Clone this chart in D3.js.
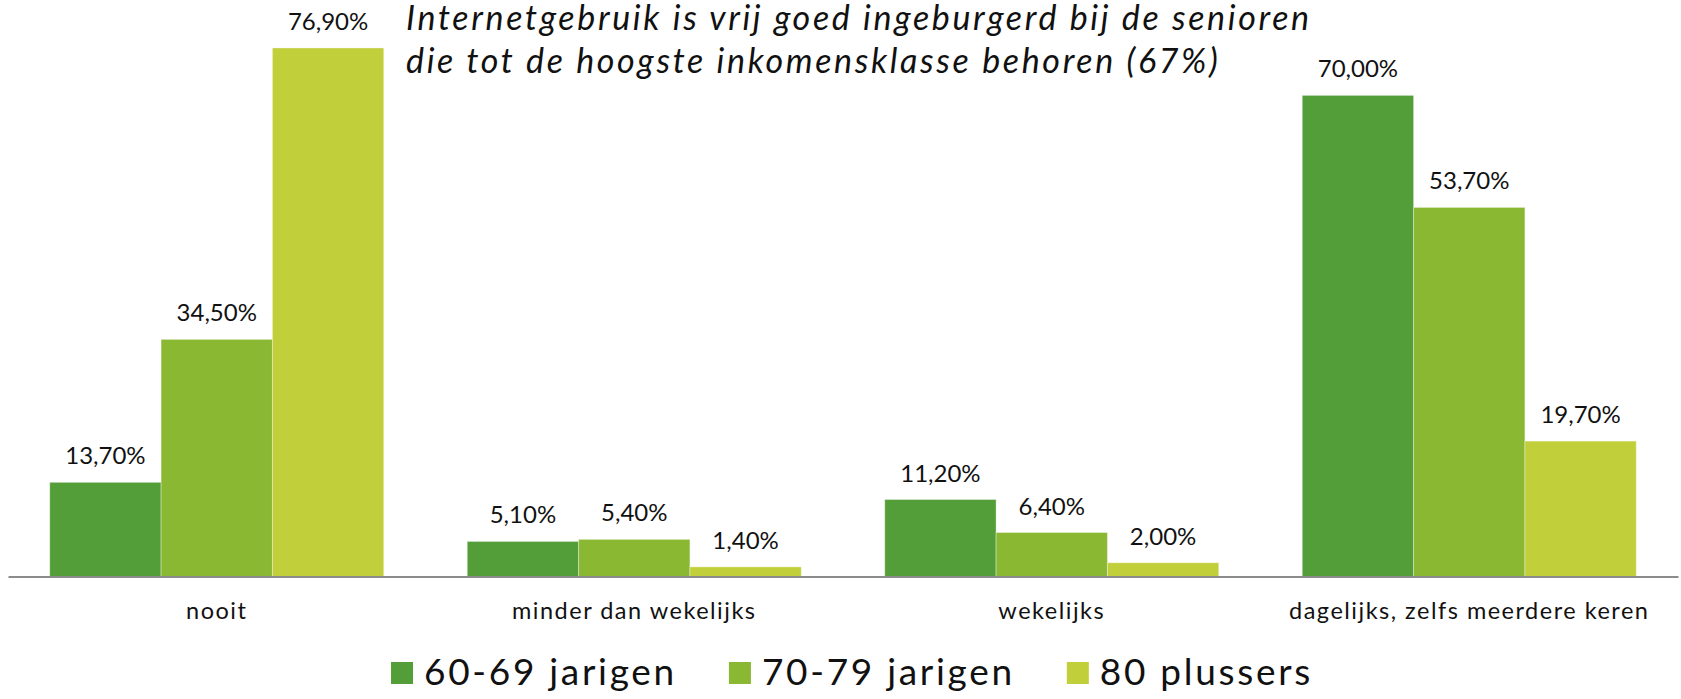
<!DOCTYPE html>
<meta charset="utf-8">
<style>
    body { margin: 0; background: #fff; }
    text { font-family: Lato, "Open Sans", sans-serif; fill: #111; }
    .cat text { font-size: 23.5px; letter-spacing: 1.5px; }
    .val { font-size: 24px; }
    .legend text { font-size: 37px; letter-spacing: 2.7px; }
    .title { font-size: 34px; font-style: italic; letter-spacing: 2.65px; }
</style>
<svg width="1681" height="699"></svg>
<script src="https://d3js.org/d3.v7.min.js"></script>
<script>
    var categories = ["nooit", "minder dan wekelijks", "wekelijks", "dagelijks, zelfs meerdere keren"];
    var series = ["60-69 jarigen", "70-79 jarigen", "80 plussers"];
    var values6069 = [13.7, 5.1, 11.2, 70.0];
    var values7079 = [34.5, 5.4, 6.4, 53.7];
    var values80 = [76.9, 1.4, 2.0, 19.7];
    var colors = ["#549e39", "#8ab833", "#c0cf3a"];
    var titleLines = ["Internetgebruik is vrij goed ingeburgerd bij de senioren",
                      "die tot de hoogste inkomensklasse behoren (67%)"];

    var svg = d3.select("svg");
    var allValues = [values6069, values7079, values80];

    var rows = categories.map(function(c, i) {
        return { cat: c, vals: series.map(function(s, j) { return { s: s, i: j, v: allValues[j][i] }; }) };
    });

    var x0 = d3.scaleBand().domain(categories).range([8, 1678]).paddingInner(0.2).paddingOuter(0.1);
    var x1 = d3.scaleBand().domain(series).range([0, x0.bandwidth()]);
    var y = d3.scaleLinear().domain([0, 84]).range([576.5, 576.5 - 84 * 6.873]);

    var group = svg.append("g").selectAll("g")
        .data(rows)
        .enter().append("g")
        .attr("transform", function(d) { return "translate(" + x0(d.cat) + ",0)"; });

    group.selectAll("rect")
        .data(function(d) { return d.vals; })
        .enter().append("rect")
        .attr("x", function(d) { return x1(d.s); })
        .attr("y", function(d) { return y(d.v); })
        .attr("width", x1.bandwidth())
        .attr("height", function(d) { return y(0) - y(d.v); })
        .attr("fill", function(d) { return colors[d.i]; })
        .attr("stroke", "#fff")
        .attr("stroke-opacity", 0.35)
        .attr("stroke-width", 1);

    group.selectAll(".val")
        .data(function(d) { return d.vals; })
        .enter().append("text")
        .attr("class", "val")
        .attr("text-anchor", "middle")
        .attr("x", function(d) { return x1(d.s) + x1.bandwidth() / 2; })
        .attr("y", function(d) { return y(d.v) - 18; })
        .text(function(d) { return d.v.toFixed(2).replace(".", ",") + "%"; });

    // x axis
    var xAxis = svg.append("g")
        .attr("class", "cat")
        .attr("transform", "translate(0," + y(0) + ")")
        .call(d3.axisBottom(x0).tickSize(0).tickPadding(42));
    xAxis.select(".domain").attr("stroke", "#8c8c8c").attr("stroke-width", 2);
    xAxis.selectAll("text").attr("font-family", null).attr("font-size", null).attr("dy", null).attr("fill", "#111");

    // title
    svg.append("g").selectAll("text")
        .data(titleLines)
        .enter().append("text")
        .attr("class", "title")
        .attr("x", 406)
        .attr("y", function(d, i) { return 30 + i * 43; })
        .text(function(d) { return d; });

    // legend
    var legend = svg.append("g").attr("class", "legend");
    var item = legend.selectAll("g")
        .data(series)
        .enter().append("g");
    item.append("rect")
        .attr("width", 22).attr("height", 22)
        .attr("y", 662)
        .attr("fill", function(d, i) { return colors[i]; });
    item.append("text")
        .attr("x", 33)
        .attr("y", 685)
        .text(function(d) { return d; });

    var pos = 0, offsets = [];
    item.each(function() {
        offsets.push(pos);
        pos += 33 + d3.select(this).select("text").node().getComputedTextLength() + 52;
    });
    var total = pos - 52;
    var start = 852 - total / 2;
    item.attr("transform", function(d, i) { return "translate(" + (start + offsets[i]) + ",0)"; });
</script>
